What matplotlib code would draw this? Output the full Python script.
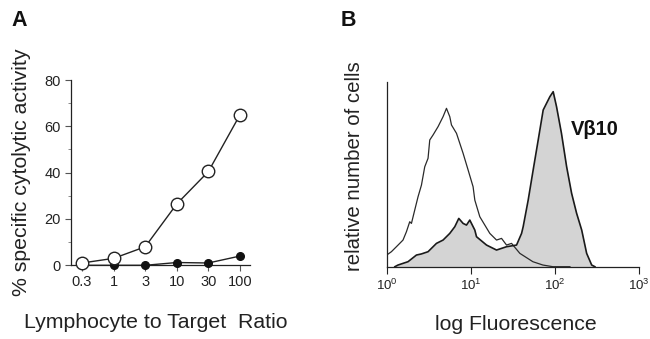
import matplotlib
matplotlib.use("Agg")
import matplotlib.pyplot as plt
from matplotlib.ticker import FixedLocator
from matplotlib import font_manager

# ---------------- data ----------------
ratio_labels = ["0.3", "1", "3", "10", "30", "100"]
open_activity = [1.0, 3.0, 8.0, 26.5, 40.5, 65.0]
filled_activity = [0.0, 0.0, 0.0, 1.2, 1.0, 4.0]

# histogram B (fluorescence, relative height)
open_fl = [1.0, 1.137, 1.304, 1.428, 1.562, 1.715, 1.877, 1.967, 2.152, 2.356, 2.586,
           2.830, 3.098, 3.246, 3.552, 4.074, 4.672, 5.127, 5.612, 5.879, 6.743, 8.077,
           9.263, 10.62, 11.13, 12.76, 16.78, 20.16, 23.12, 26.50, 30.40, 38.15, 54.45,
           71.61, 94.15, 150.0]
open_h = [0.063, 0.081, 0.108, 0.126, 0.144, 0.189, 0.243, 0.234, 0.306, 0.378, 0.441,
          0.54, 0.586, 0.685, 0.712, 0.757, 0.811, 0.856, 0.811, 0.766, 0.721, 0.613,
          0.523, 0.432, 0.36, 0.27, 0.18, 0.144, 0.153, 0.117, 0.126, 0.072, 0.027,
          0.009, 0.0, 0.0]

vb10_fl = [1.25, 1.363, 1.792, 2.255, 2.586, 3.098, 3.899, 4.672, 5.612, 6.437, 7.180,
           8.077, 8.867, 9.703, 11.13, 11.66, 15.33, 20.16, 26.50, 34.85, 39.98, 41.76,
           47.9, 54.9, 63.0, 72.2, 86.7, 94.9, 104, 119, 137, 157, 180, 207, 237, 272, 297]
vb10_h = [0.0, 0.009, 0.027, 0.063, 0.069, 0.081, 0.126, 0.144, 0.18, 0.216, 0.261,
          0.234, 0.225, 0.252, 0.198, 0.162, 0.117, 0.09, 0.108, 0.117, 0.18, 0.216,
          0.36, 0.523, 0.685, 0.847, 0.919, 0.946, 0.865, 0.721, 0.541, 0.397, 0.289,
          0.198, 0.072, 0.009, 0.0]

# ---------------- fonts ----------------
names = {f.name for f in font_manager.fontManager.ttflist}
narrow = "Liberation Sans Narrow" if "Liberation Sans Narrow" in names else "Liberation Sans"
plt.rcParams['font.family'] = ['Liberation Sans', 'DejaVu Sans']
plt.rcParams['mathtext.fontset'] = 'custom'
plt.rcParams['mathtext.rm'] = 'Liberation Sans'
plt.rcParams['mathtext.it'] = 'Liberation Sans'
plt.rcParams['mathtext.bf'] = 'Liberation Sans:bold'

W, H = 650, 339
fig = plt.figure(figsize=(6.5, 3.39), dpi=100)

def box(x0, y0, x1, y1):
    return [x0 / W, 1 - y1 / H, (x1 - x0) / W, (y1 - y0) / H]

lc = '#222222'
LABEL_FS = 15.3

# ---------------- panel A ----------------
axA = fig.add_axes(box(70.7, 80, 250, 265.3))
pos = list(range(len(ratio_labels)))
axA.plot(pos, filled_activity, '-', color=lc, lw=1.0, marker='o', ms=5.5,
         mfc='#111111', mec='#111111', clip_on=False, zorder=3)
axA.plot(pos, open_activity, '-', color=lc, lw=1.0, marker='o', ms=9,
         mfc='white', mec=lc, mew=1.0, clip_on=False, zorder=4)
axA.set_xlim(-0.358, 5.316)
axA.set_ylim(0, 80)
axA.spines['top'].set_visible(False)
axA.spines['right'].set_visible(False)
for s in ['left', 'bottom']:
    axA.spines[s].set_color(lc)
    axA.spines[s].set_linewidth(0.9)
axA.set_xticks(pos)
axA.set_xticklabels(ratio_labels, family=narrow, fontsize=10.5, color=lc)
axA.set_yticks([0, 20, 40, 60, 80])
axA.set_yticklabels(["0", "20", "40", "60", "80"], family=narrow, fontsize=10.5, color=lc)
axA.yaxis.set_minor_locator(FixedLocator([10, 30, 50, 70]))
axA.tick_params(axis='both', which='major', length=4, width=0.8, color='#555555', pad=3)
axA.tick_params(axis='y', which='minor', length=2.5, width=0.6, color='#777777')
fig.text(21.7 / W, 1 - 172 / H, "% specific cytolytic activity", rotation=90,
         ha='center', va='center', fontsize=LABEL_FS, color=lc)
fig.text(156 / W, 1 - 323 / H, "Lymphocyte to Target  Ratio", ha='center', va='center',
         fontsize=LABEL_FS, color=lc)
fig.text(11 / W, 1 - 21 / H, "A", fontsize=15.5, fontweight='bold', ha='left', va='center',
         color='#111111')

# ---------------- panel B ----------------
axB = fig.add_axes(box(386.7, 81.7, 639.3, 266.7))
axB.fill_between(vb10_fl, vb10_h, 0, color='#d4d4d4', lw=0, zorder=1)
axB.plot(vb10_fl, vb10_h, color='#1a1a1a', lw=1.2, zorder=3)
axB.plot(open_fl, open_h, color='#2a2a2a', lw=0.9, zorder=2)
axB.set_xscale('log')
axB.set_xlim(1, 1000)
axB.set_ylim(0, 1)
axB.spines['top'].set_visible(False)
axB.spines['right'].set_visible(False)
for s in ['left', 'bottom']:
    axB.spines[s].set_color(lc)
    axB.spines[s].set_linewidth(0.9)
axB.set_yticks([])
axB.set_xticks([1, 10, 100, 1000])
axB.set_xticklabels([r"$10^0$", r"$10^1$", r"$10^2$", r"$10^3$"], fontsize=9.5, color=lc)
axB.xaxis.set_minor_locator(FixedLocator([]))
axB.tick_params(axis='x', which='major', length=5, width=0.8, color=lc, pad=3)
fig.text(571 / W, 1 - 129.5 / H, "V\u03b210", fontsize=14.5,
         fontweight='bold', ha='left', va='center', color='#111111')
fig.text(355 / W, 1 - 166 / H, "relative number of cells", rotation=90, ha='center',
         va='center', fontsize=LABEL_FS - 0.6, color=lc)
fig.text(516 / W, 1 - 325 / H, "log Fluorescence", ha='center', va='center',
         fontsize=LABEL_FS, color=lc)
fig.text(341 / W, 1 - 21 / H, "B", fontsize=15.5, fontweight='bold', ha='left', va='center',
         color='#111111')

fig.savefig("out.png", dpi=100)
